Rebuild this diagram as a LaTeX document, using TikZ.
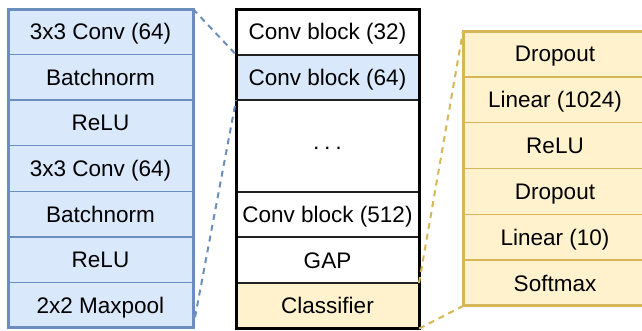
\documentclass[tikz,border=0pt]{standalone}
\usepackage{fontspec}
\setmainfont{Liberation Sans}
\definecolor{bluefill}{HTML}{DAE8FC}
\definecolor{blueline}{HTML}{6C8EBF}
\definecolor{yelfill}{HTML}{FFF2CC}
\definecolor{yelline}{HTML}{D6B656}
\definecolor{midline}{HTML}{222222}
\tikzset{
  cell/.style={rectangle, inner sep=0pt, outer sep=0pt, anchor=north west,
    font=\fontsize{22.5}{27}\selectfont, text height=16.1pt, text depth=0pt},
  bluecell/.style={cell, fill=bluefill, draw=blueline, line width=1.5pt,
    minimum width=185pt, minimum height=45.57pt},
  midcell/.style={cell, fill=white, draw=midline, line width=2pt,
    minimum width=183pt, minimum height=45.6pt},
  yelcell/.style={cell, fill=yelfill, draw=yelline, line width=1.5pt,
    minimum width=184pt, minimum height=45.83pt},
  blueborder/.style={draw=blueline, line width=3pt},
  midborder/.style={draw=black, line width=3pt},
  yelborder/.style={draw=yelline, line width=3pt},
  bluedash/.style={draw=blueline, line width=2pt, dash pattern=on 6pt off 5pt},
  yeldash/.style={draw=yelline, line width=2pt, dash pattern=on 6pt off 5pt},
}
\begin{document}
\begin{tikzpicture}[x=1pt, y=-1pt]
\useasboundingbox (0,0) rectangle (642,330);
% left panel
\node[bluecell] (l1) at (8,9) {3x3 Conv (64)};
\node[bluecell] (l2) at (8,54.57) {Batchnorm};
\node[bluecell] (l3) at (8,100.14) {ReLU};
\node[bluecell] (l4) at (8,145.71) {3x3 Conv (64)};
\node[bluecell] (l5) at (8,191.28) {Batchnorm};
\node[bluecell] (l6) at (8,236.85) {ReLU};
\node[bluecell] (l7) at (8,282.42) {2x2 Maxpool};
\draw[blueborder] (l1.north west) rectangle (l7.south east);
% middle panel
\node[midcell] (m1) at (236,9) {Conv block (32)};
\node[midcell, fill=bluefill] (m2) at (236,54.6) {Conv block (64)};
\node[midcell, minimum height=91.6pt] (m3) at (236,100.2) {·\,·\,·};
\node[midcell] (m4) at (236,191.8) {Conv block (512)};
\node[midcell] (m5) at (236,237.4) {GAP};
\node[midcell, fill=yelfill] (m6) at (236,283) {Classifier};
\draw[midborder] (m1.north west) rectangle (m6.south east);
% right panel
\node[yelcell] (r1) at (463,31) {Dropout};
\node[yelcell] (r2) at (463,76.83) {Linear (1024)};
\node[yelcell] (r3) at (463,122.66) {ReLU};
\node[yelcell] (r4) at (463,168.49) {Dropout};
\node[yelcell] (r5) at (463,214.32) {Linear (10)};
\node[yelcell] (r6) at (463,260.15) {Softmax};
\draw[yelborder] (r1.north west) rectangle (r6.south east);
% connectors
\draw[bluedash] (l1.north east) -- (m2.north west);
\draw[bluedash] (l7.south east) -- (m2.south west);
\draw[yeldash] (m6.north east) -- (r1.north west);
\draw[yeldash] (m6.south east) -- (r6.south west);
\end{tikzpicture}
\end{document}
